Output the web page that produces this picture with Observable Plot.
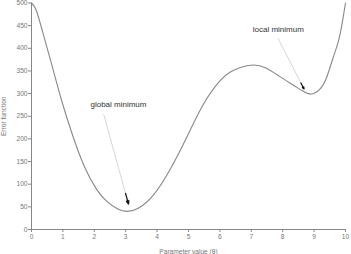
<!DOCTYPE html>
<html>
<head>
<meta charset="utf-8">
<script src="https://cdn.jsdelivr.net/npm/d3@7"></script>
<script src="https://cdn.jsdelivr.net/npm/@observablehq/plot@0.6"></script>
<style>
  html, body { margin: 0; padding: 0; background: #fff; }
  svg { font-family: "Liberation Sans", Arial, sans-serif; display: block; }
</style>
</head>
<body>
<div id="chart"></div>
<script>
const paramX = [0, 0.15, 0.36, 0.66, 0.95, 1.29, 1.69, 2.08, 2.4, 2.75, 3.05, 3.4, 3.88, 4.41, 4.94, 5.47, 6.0, 6.32, 6.63, 7.06, 7.48, 7.9, 8.33, 8.65, 8.9, 9.17, 9.39, 9.6, 9.76, 9.88, 10];
const errorY = [500, 484, 435, 360, 287, 212, 138, 88, 62, 45, 40, 47, 76, 132, 203, 276, 328, 347, 357, 363, 356, 338, 319, 305, 299, 309, 334, 378, 412, 450, 500];
const xTicks = [0, 1, 2, 3, 4, 5, 6, 7, 8, 9, 10];
const yTicks = [0, 50, 100, 150, 200, 250, 300, 350, 400, 450, 500];
const annLabels = ["global minimum", "local minimum"];
const annTextX = [2.77, 7.86];
const annTextY = [277, 441];
const annFromX = [2.30, 7.85];
const annFromY = [254, 422];
const annToX = [3.09, 8.68];
const annToY = [56, 310];

const curve = paramX.map((x, i) => ({x, y: errorY[i]}));
const ann = annLabels.map((label, i) => ({
  label, tx: annTextX[i], ty: annTextY[i],
  x1: annFromX[i], y1: annFromY[i], x2: annToX[i], y2: annToY[i],
  hx: annFromX[i] + (annToX[i] - annFromX[i]) * 0.88,
  hy: annFromY[i] + (annToY[i] - annFromY[i]) * 0.88
}));

const chart = Plot.plot({
  width: 351,
  height: 254,
  marginTop: 2.5,
  marginBottom: 25,
  marginLeft: 31,
  marginRight: 6,
  style: {fontSize: "6.6px", color: "#777", background: "#fff"},
  x: {domain: [0, 10]},
  y: {domain: [0, 500]},
  marks: [
    Plot.axisX({ticks: xTicks, tickSize: 3, tickPadding: 2, label: "Parameter value (θ)", labelAnchor: "center", labelOffset: 24, labelArrow: "none", stroke: "#888", fill: "#777"}),
    Plot.axisY({ticks: yTicks, tickSize: 3, tickPadding: 1, label: "Error function", labelAnchor: "center", labelOffset: 30, labelArrow: "none", stroke: "#888", fill: "#777"}),
    Plot.ruleX([0], {stroke: "#888"}),
    Plot.ruleY([0], {stroke: "#888"}),
    Plot.line(curve, {x: "x", y: "y", curve: "natural", stroke: "#888", strokeWidth: 1.1}),
    Plot.link(ann, {x1: "x1", y1: "y1", x2: "x2", y2: "y2", stroke: "#ccc", strokeWidth: 0.8}),
    Plot.arrow(ann, {x1: "hx", y1: "hy", x2: "x2", y2: "y2", stroke: "#111", strokeWidth: 1.2, headLength: 6, headAngle: 40}),
    Plot.text(ann, {x: "tx", y: "ty", text: "label", fill: "#333", fontSize: 8})
  ]
});
document.getElementById("chart").appendChild(chart);
</script>
</body>
</html>
